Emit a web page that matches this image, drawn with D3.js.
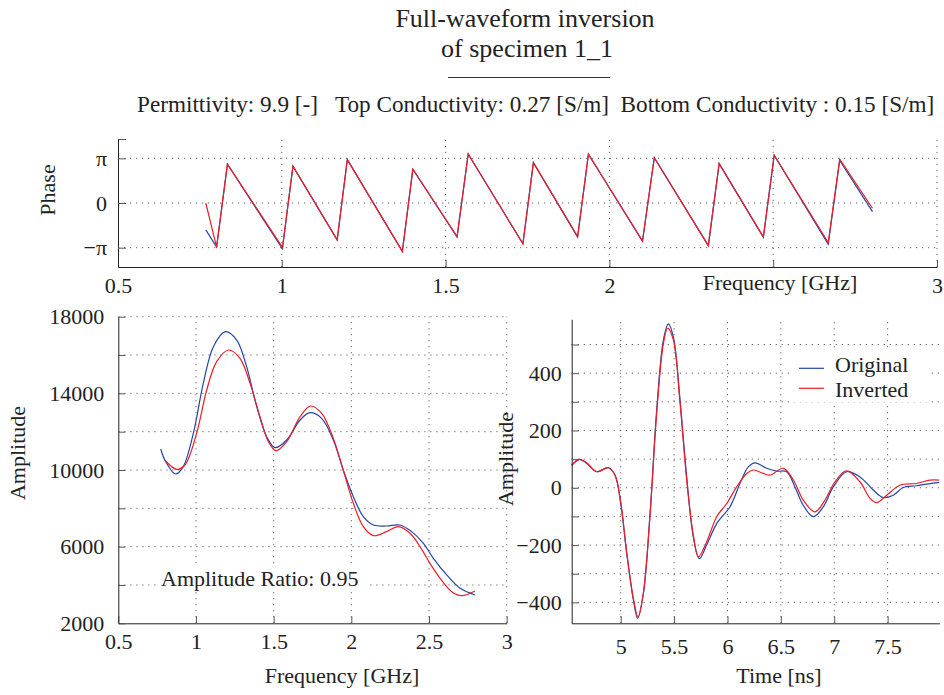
<!DOCTYPE html>
<html>
<head>
<meta charset="utf-8">
<script src="https://cdn.jsdelivr.net/npm/d3@7"></script>
<style>
    body { margin: 0; background: #fff; }
    text { font-family: "Liberation Serif", "Times New Roman", serif; fill: #222; }
</style>
</head>
<body>
<svg id="chart" width="944" height="695"></svg>
<script>
//data

//phase panel (sawtooth, wrapped to -pi..pi)
const phaseFreq = [0.768, 0.801, 0.834, 1.002, 1.034, 1.169, 1.200, 1.368, 1.400, 1.535, 1.569, 1.736,
    1.768, 1.903, 1.936, 2.101, 2.137, 2.302, 2.335, 2.470, 2.503, 2.668, 2.703, 2.803]
const phaseOriginal = [-1.89, -3.10, 2.73, -3.22, 2.59, -2.59, 3.05, -3.40, 2.38, -2.40, 3.45, -2.87,
    2.84, -2.40, 3.43, -2.70, 3.19, -3.00, 2.77, -2.40, 3.36, -2.90, 3.00, -0.61]
const phaseInverted = [0.00, -3.10, 2.73, -3.12, 2.59, -2.59, 3.05, -3.40, 2.38, -2.36, 3.45, -2.87,
    2.84, -2.36, 3.43, -2.66, 3.19, -3.00, 2.77, -2.40, 3.36, -2.78, 3.08, -0.37]
const phaseTicks = [-Math.PI, 0, Math.PI]
const phaseTickLabels = ['\u2212\u03c0', '0', '\u03c0']

//amplitude spectrum panel
const ampFreqOriginal = [0.773, 0.805, 0.869, 0.918, 0.983, 1.047, 1.112, 1.189, 1.262, 1.326, 1.391, 1.455,
    1.509, 1.584, 1.670, 1.734, 1.809, 1.884, 1.948, 2.013, 2.077, 2.142, 2.227, 2.313, 2.388, 2.464,
    2.528, 2.614, 2.700, 2.796]
const ampOriginal = [11096, 10435, 9791, 10174, 11913, 14522, 16435, 17217, 16783, 15391, 13305, 11739,
    11165, 11565, 12609, 12991, 12696, 11565, 10000, 8609, 7565, 7130, 7078, 7130, 6783, 6174,
    5391, 4522, 3826, 3478]
const ampFreqInverted = [0.805, 0.876, 0.929, 1.004, 1.069, 1.133, 1.210, 1.283, 1.348, 1.412, 1.466,
    1.515, 1.584, 1.670, 1.738, 1.809, 1.884, 1.948, 2.013, 2.077, 2.142, 2.227, 2.303, 2.378, 2.442,
    2.506, 2.571, 2.646, 2.710, 2.796]
const ampInverted = [10470, 10035, 10261, 11913, 14174, 15652, 16261, 15826, 14522, 12783, 11478,
    11009, 11478, 12783, 13339, 12957, 11652, 10000, 8261, 7043, 6574, 6783, 7043, 6696, 6000,
    5130, 4348, 3652, 3443, 3687]
const freqTicks = [0.5, 1, 1.5, 2, 2.5, 3]
const ampTicks = [2000, 4000, 6000, 8000, 10000, 12000, 14000, 16000, 18000]
const ampTickLabels = [2000, 6000, 10000, 14000, 18000]

//time trace panel
const timeOriginal = [4.541, 4.613, 4.682, 4.775, 4.885, 4.947, 5.000, 5.056, 5.119, 5.159, 5.212, 5.275,
    5.337, 5.400, 5.446, 5.493, 5.556, 5.618, 5.680, 5.737, 5.805, 5.899, 6.024, 6.117, 6.195, 6.258,
    6.367, 6.461, 6.554, 6.632, 6.710, 6.804, 6.898, 6.991, 7.116, 7.241, 7.366, 7.459, 7.553, 7.647,
    7.771, 7.865, 7.984]
const waveOriginal = [79, 99, 85, 56, 70, 44, -55, -229, -392, -456, -369, -90,
    271, 516, 572, 527, 306, 38, -171, -247, -200, -125, -66, 15, 73, 87,
    68, 58, 56, 3, -61, -101, -66, 3, 56, 38, -8, -34, -26, 1,
    7, 13, 19]
const timeInverted = [4.541, 4.613, 4.682, 4.775, 4.885, 4.947, 5.000, 5.056, 5.119, 5.162, 5.212, 5.275,
    5.337, 5.400, 5.440, 5.493, 5.556, 5.618, 5.680, 5.727, 5.805, 5.899, 5.993, 6.086, 6.180, 6.242,
    6.336, 6.398, 6.523, 6.617, 6.710, 6.820, 6.913, 7.007, 7.116, 7.241, 7.335, 7.397, 7.491, 7.615,
    7.771, 7.896, 7.984]
const waveInverted = [77, 99, 87, 56, 70, 44, -49, -224, -387, -451, -369, -95,
    260, 504, 557, 516, 295, 27, -165, -241, -189, -101, -55, 3, 50, 62,
    50, 44, 68, 27, -43, -84, -43, 21, 59, 21, -37, -52, -26, 9,
    15, 27, 27]
const timeTicks = [5, 5.5, 6, 6.5, 7, 7.5]
const waveTicks = [-400, -300, -200, -100, 0, 100, 200, 300, 400, 500]
const waveTickLabels = [-400, -200, 0, 200, 400]

const seriesNames = ['Original', 'Inverted']
const colors = { Original: '#2546a6', Inverted: '#ee1d26' }

const svg = d3.select('#chart')
const fontSize = 22

//tiny helper, the minus sign in matlab figures is a real minus
function fmt(d) {
    return String(d).replace('-', '\u2212')
}

//makes the axis look like the matlab one (serif labels, inward ticks)
function styleAxis(g) {
    g.attr('font-family', null).attr('font-size', null)
    g.select('.domain').attr('stroke', '#222').attr('stroke-width', 1)
    g.selectAll('.tick line').attr('stroke', '#555').attr('stroke-width', 1)
    g.selectAll('.tick text').attr('font-size', fontSize).attr('fill', '#222')
}

//dotted grid lines across a panel
function drawGrid(x, y, xs, ys) {
    const grid = svg.append('g')
        .attr('stroke', '#666')
        .attr('stroke-width', 1)
        .attr('stroke-dasharray', '1.2,4.8')

    grid.selectAll('.vgrid')
        .data(xs)
        .enter()
        .append('line')
        .attr('x1', d => x(d)).attr('x2', d => x(d))
        .attr('y1', y.range()[0]).attr('y2', y.range()[1])

    grid.selectAll('.hgrid')
        .data(ys)
        .enter()
        .append('line')
        .attr('x1', x.range()[0]).attr('x2', x.range()[1])
        .attr('y1', d => y(d)).attr('y2', d => y(d))
}

function drawLine(x, y, xs, ys, color, curve) {
    const line = d3.line()
        .x(d => x(d[0]))
        .y(d => y(d[1]))
        .curve(curve)

    svg.append('path')
        .datum(d3.zip(xs, ys))
        .attr('d', line)
        .attr('fill', 'none')
        .attr('stroke', color)
        .attr('stroke-width', 1.2)
}

function addText(str, x, y, opts) {
    opts = opts || {}
    const t = svg.append('text')
        .attr('x', x)
        .attr('y', y)
        .attr('font-size', opts.size || fontSize)
        .attr('text-anchor', opts.anchor || 'middle')
        .style('white-space', 'pre')
        .text(str)
    if (opts.rotate) {
        t.attr('x', 0).attr('y', 0)
            .attr('transform', `translate(${x}, ${y}) rotate(-90)`)
    }
    return t
}


//title block
function drawTitle() {
    addText('Full-waveform inversion', 525, 27, { size: 26 })
    addText('of specimen 1_1', 527, 57, { size: 26 })

    svg.append('line')
        .attr('x1', 448).attr('x2', 610)
        .attr('y1', 77.5).attr('y2', 77.5)
        .attr('stroke', '#333')
        .attr('stroke-width', 1)

    addText('Permittivity: 9.9 [-]   Top Conductivity: 0.27 [S/m]  Bottom Conductivity : 0.15 [S/m]',
        137, 112, { size: 23.2, anchor: 'start' })
}


//phase vs frequency, top strip
function drawPhase() {
    const x = d3.scaleLinear().domain([0.5, 3]).range([118, 937])
    const y = d3.scaleLinear().domain([-4.5, 4.5]).range([267, 139])

    drawGrid(x, y, freqTicks.slice(1), phaseTicks)

    drawLine(x, y, phaseFreq, phaseOriginal, colors.Original, d3.curveLinear)
    drawLine(x, y, phaseFreq, phaseInverted, colors.Inverted, d3.curveLinear)

    //the 2.5 label sits under the axis title in the original so it is left blank
    svg.append('g')
        .attr('transform', `translate(0, ${y.range()[0]})`)
        .call(d3.axisBottom(x)
            .tickValues(freqTicks)
            .tickFormat(d => d === 2.5 ? '' : fmt(d))
            .tickSizeInner(-7).tickSizeOuter(0).tickPadding(10))
        .call(styleAxis)

    //extra unlabeled tick at the top end of the axis
    svg.append('g')
        .attr('transform', `translate(${x.range()[0]}, 0)`)
        .call(d3.axisLeft(y)
            .tickValues(phaseTicks.concat([4.5]))
            .tickFormat((d, i) => phaseTickLabels[i] || '')
            .tickSizeInner(-8).tickSizeOuter(0).tickPadding(11))
        .call(styleAxis)

    addText('Phase', 55, 190, { rotate: true })
    addText('Frequency [GHz]', 780, 290)
}


//amplitude spectrum, bottom left
function drawAmplitude() {
    const x = d3.scaleLinear().domain([0.5, 3]).range([118.3, 506.7])
    const y = d3.scaleLinear().domain([2000, 18000]).range([623.3, 316.7])

    drawGrid(x, y, freqTicks.slice(1), ampTicks.slice(1))

    //white box behind the ratio note
    svg.append('rect')
        .attr('x', 158).attr('y', 568)
        .attr('width', 210).attr('height', 24)
        .attr('fill', '#fff')
    addText('Amplitude Ratio: 0.95', 161, 586, { anchor: 'start' })

    drawLine(x, y, ampFreqOriginal, ampOriginal, colors.Original, d3.curveCatmullRom.alpha(0.5))
    drawLine(x, y, ampFreqInverted, ampInverted, colors.Inverted, d3.curveCatmullRom.alpha(0.5))

    svg.append('g')
        .attr('transform', `translate(0, ${y.range()[0]})`)
        .call(d3.axisBottom(x)
            .tickValues(freqTicks)
            .tickFormat(fmt)
            .tickSizeInner(-7).tickSizeOuter(0).tickPadding(10))
        .call(styleAxis)

    svg.append('g')
        .attr('transform', `translate(${x.range()[0]}, 0)`)
        .call(d3.axisLeft(y)
            .tickValues(ampTicks)
            .tickFormat(d => ampTickLabels.includes(d) ? fmt(d) : '')
            .tickSizeInner(-7).tickSizeOuter(0).tickPadding(14))
        .call(styleAxis)

    addText('Amplitude', 25, 453, { rotate: true })
    addText('Frequency [GHz]', 342, 683)
}


//time domain trace, bottom right
function drawTrace() {
    const x = d3.scaleLinear().domain([4.541, 7.984]).range([571.7, 939.3])
    const y = d3.scaleLinear().domain([-473, 588]).range([623.3, 319.3])

    drawGrid(x, y, timeTicks, waveTicks)

    drawLine(x, y, timeOriginal, waveOriginal, colors.Original, d3.curveCatmullRom.alpha(0.5))
    drawLine(x, y, timeInverted, waveInverted, colors.Inverted, d3.curveCatmullRom.alpha(0.5))

    svg.append('g')
        .attr('transform', `translate(0, ${y.range()[0]})`)
        .call(d3.axisBottom(x)
            .tickValues(timeTicks)
            .tickFormat(fmt)
            .tickSizeInner(-7).tickSizeOuter(0).tickPadding(15))
        .call(styleAxis)

    svg.append('g')
        .attr('transform', `translate(${x.range()[0]}, 0)`)
        .call(d3.axisLeft(y)
            .tickValues(waveTicks)
            .tickFormat(d => waveTickLabels.includes(d) ? fmt(d) : '')
            .tickSizeInner(-7).tickSizeOuter(0).tickPadding(10))
        .call(styleAxis)

    addText('Amplitude', 513, 459, { rotate: true })
    addText('Time [ns]', 779, 683)

    //legend, no border but it hides the grid behind it
    const legend = svg.append('g')
    legend.append('rect')
        .attr('x', 793).attr('y', 350)
        .attr('width', 134).attr('height', 52)
        .attr('fill', '#fff')

    seriesNames.forEach(function(name, i) {
        legend.append('line')
            .attr('x1', 799).attr('x2', 824)
            .attr('y1', 368.3 + i * 20).attr('y2', 368.3 + i * 20)
            .attr('stroke', colors[name])
            .attr('stroke-width', 1.2)
        legend.append('text')
            .attr('x', 835)
            .attr('y', 371.5 + i * 25.2)
            .attr('font-size', fontSize)
            .text(name)
    })
}

drawTitle()
drawPhase()
drawAmplitude()
drawTrace()
</script>
</body>
</html>
